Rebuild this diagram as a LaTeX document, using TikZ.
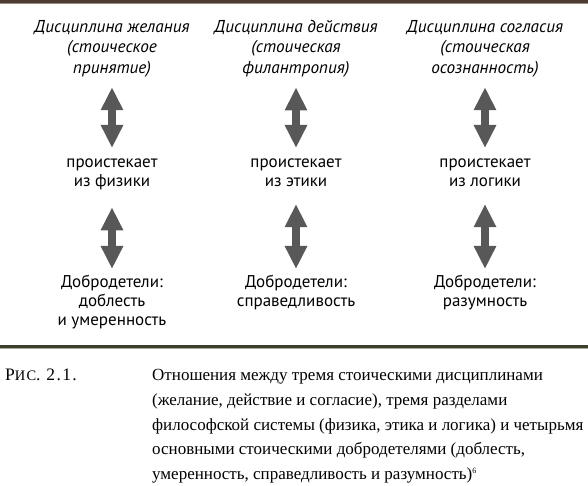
\documentclass[tikz,border=0pt]{standalone}
\usepackage{fontspec}
\setmainfont{Liberation Serif}
\newfontfamily\diagfont{PT Sans}
\usetikzlibrary{arrows.meta,positioning}

\definecolor{arrowgray}{HTML}{585858}
\definecolor{rulebrown}{HTML}{4B3B30}
\definecolor{rulebrownlight}{HTML}{9A8A7E}
\definecolor{ruleolive}{HTML}{3C3F2C}
\definecolor{ruleolivelight}{HTML}{A4A794}

\begin{document}
\begin{tikzpicture}[x=1pt, y=1pt,
    discipline/.style={font=\diagfont\itshape\fontsize{17.2}{20.5}\selectfont, align=center, anchor=north, inner sep=0pt},
    plain/.style={font=\diagfont\fontsize{17}{18.8}\selectfont, align=center, anchor=north, inner sep=0pt},
    dblarrow/.style={draw=arrowgray, line width=8pt,
        {Triangle[width=21pt,length=23pt]}-{Triangle[width=21pt,length=23pt]}}]
        \useasboundingbox (0,0) rectangle (588,486);

        % Rules
        \fill[rulebrown] (0,483) rectangle (588,486);
        \fill[rulebrownlight] (0,482) rectangle (588,483);
        \fill[ruleolive] (0,138) rectangle (588,141);
        \fill[ruleolivelight] (0,137) rectangle (588,138);

        % Define the nodes
        \node[discipline] (desire) at (112,466) {Дисциплина желания\\(стоическое\\принятие)};
        \node[discipline] (action) at (296,466) {Дисциплина действия\\(стоическая\\филантропия)};
        \node[discipline] (assent) at (485,466) {Дисциплина согласия\\(стоическая\\осознанность)};

        \node[plain] (physics) at (112,327) {проистекает\\из физики};
        \node[plain] (ethics) at (296,327) {проистекает\\из этики};
        \node[plain] (logic) at (485,327) {проистекает\\из логики};

        \node[plain] (courage) at (112,211) {Добродетели:\\доблесть\\и умеренность};
        \node[plain] (justice) at (296,211) {Добродетели:\\справедливость};
        \node[plain] (wisdom) at (485,211) {Добродетели:\\разумность};

        % Draw the edges
        \draw[dblarrow, shorten <=10pt, shorten >=11pt] (desire) -- (physics);
        \draw[dblarrow, shorten <=10pt, shorten >=11pt] (action) -- (ethics);
        \draw[dblarrow, shorten <=10pt, shorten >=11pt] (assent) -- (logic);
        \draw[dblarrow, shorten <=17pt, shorten >=6pt] (physics) -- (courage);
        \draw[dblarrow, shorten <=17pt, shorten >=6pt] (ethics) -- (justice);
        \draw[dblarrow, shorten <=17pt, shorten >=6pt] (logic) -- (wisdom);

        % Caption
        \node[anchor=north west, inner sep=0pt, font=\fontsize{17.5}{24.8}\selectfont\addfontfeature{LetterSpace=8}] (fig) at (5,117)
            {Р{\fontsize{14.5}{14.5}\selectfont ИС}. 2.1.};
        \node[anchor=north west, inner sep=0pt, align=left, font=\fontsize{17}{24.8}\selectfont] (caption) at (152,117)
            {Отношения между тремя стоическими дисциплинами\\
             (желание, действие и согласие), тремя разделами\\
             философской системы (физика, этика и логика) и четырьмя\\
             основными стоическими добродетелями (доблесть,\\
             умеренность, справедливость и разумность)\textsuperscript{\fontsize{8}{8}\selectfont 6}};
    \end{tikzpicture}
\end{document}
